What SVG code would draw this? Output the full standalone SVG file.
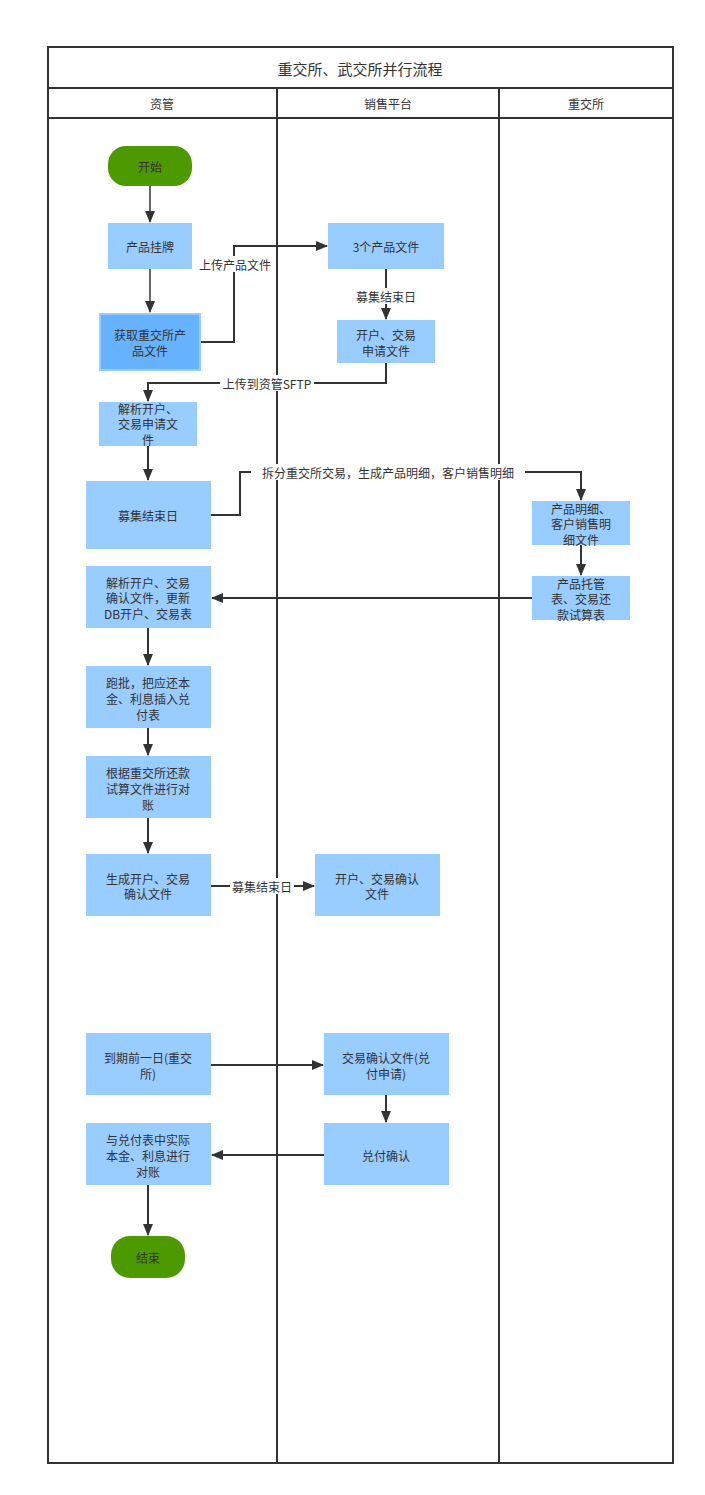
<svg xmlns="http://www.w3.org/2000/svg" width="705" height="1495" viewBox="0 0 705 1495">
<defs>
<marker id="arr" markerWidth="12" markerHeight="10" refX="11" refY="5" orient="auto" markerUnits="userSpaceOnUse">
<path d="M0,0 L12,5 L0,10 Z" fill="#333"/>
</marker>
<style>
text{font-family:"Noto Sans CJK SC","Liberation Sans",sans-serif;font-size:12px;fill:#333;text-anchor:middle;dominant-baseline:central}
.t{font-size:15px}
.box{fill:#99CCFF}
.dark{fill:#66B2FF;stroke:#99CCFF;stroke-width:2}
.term{fill:#4D9900}
.c{fill:none;stroke:#333;stroke-width:2}
.g{fill:none;stroke:#666;stroke-width:2}
.lbl{fill:#fff}
.frame{fill:none;stroke:#333;stroke-width:2}
</style>
</defs>
<rect width="705" height="1495" fill="#fff"/>
<g id="frame">
<rect class="frame" x="48" y="47" width="625" height="1416"/>
<line class="frame" x1="48" y1="88" x2="673" y2="88"/>
<line class="frame" x1="48" y1="118" x2="673" y2="118"/>
<line class="frame" x1="277" y1="88" x2="277" y2="1463"/>
<line class="frame" x1="499" y1="88" x2="499" y2="1463"/>
<text class="t" x="360" y="68">重交所、武交所并行流程</text>
<text x="162" y="103">资管</text>
<text x="388" y="103">销售平台</text>
<text x="586" y="103">重交所</text>
</g>
<g id="connectors">
<line class="g" x1="150" y1="186" x2="150" y2="222" marker-end="url(#arr)"/>
<line class="g" x1="150" y1="269" x2="150" y2="312" marker-end="url(#arr)"/>
<polyline class="c" points="201,342 234,342 234,246 327,246" marker-end="url(#arr)"/>
<rect class="lbl" x="196" y="256" width="78" height="16"/>
<text x="235" y="264">上传产品文件</text>
<line class="c" x1="386" y1="269" x2="386" y2="319" marker-end="url(#arr)"/>
<rect class="lbl" x="354" y="288" width="64" height="16"/>
<text x="386" y="296">募集结束日</text>
<polyline class="c" points="386,363 386,383 148,383 148,401" marker-end="url(#arr)"/>
<rect class="lbl" x="220" y="375" width="94" height="16"/>
<text x="267" y="383">上传到资管SFTP</text>
<line class="c" x1="148" y1="446" x2="148" y2="480" marker-end="url(#arr)"/>
<polyline class="c" points="211,515 240,515 240,472 581,472 581,500" marker-end="url(#arr)"/>
<rect class="lbl" x="251" y="464" width="274" height="16"/>
<text x="388" y="472">拆分重交所交易，生成产品明细，客户销售明细</text>
<line class="c" x1="581" y1="545" x2="581" y2="575" marker-end="url(#arr)"/>
<line class="c" x1="532" y1="598" x2="212" y2="598" marker-end="url(#arr)"/>
<line class="c" x1="148" y1="628" x2="148" y2="665" marker-end="url(#arr)"/>
<line class="c" x1="148" y1="728" x2="148" y2="755" marker-end="url(#arr)"/>
<line class="c" x1="148" y1="818" x2="148" y2="853" marker-end="url(#arr)"/>
<line class="c" x1="211" y1="886" x2="314" y2="886" marker-end="url(#arr)"/>
<rect class="lbl" x="230" y="878" width="64" height="16"/>
<text x="262" y="886">募集结束日</text>
<line class="c" x1="211" y1="1065" x2="323" y2="1065" marker-end="url(#arr)"/>
<line class="c" x1="386" y1="1095" x2="386" y2="1122" marker-end="url(#arr)"/>
<line class="c" x1="324" y1="1155" x2="212" y2="1155" marker-end="url(#arr)"/>
<line class="c" x1="148" y1="1185" x2="148" y2="1235" marker-end="url(#arr)"/>
</g>
<g id="start"><rect class="term" x="108" y="146" width="84" height="40" rx="18"/><text x="150" y="166">开始</text></g>
<g id="listing"><rect class="box" x="108" y="223" width="84" height="46"/><text x="150" y="246">产品挂牌</text></g>
<g id="fetch"><rect class="dark" x="100" y="314" width="100" height="56"/><text x="150" y="334">获取重交所产</text><text x="150" y="350">品文件</text></g>
<g id="threefiles"><rect class="box" x="328" y="223" width="116" height="46"/><text x="386" y="246">3个产品文件</text></g>
<g id="applyfile"><rect class="box" x="337" y="320" width="98" height="43"/><text x="386" y="334">开户、交易</text><text x="386" y="350">申请文件</text></g>
<g id="parseapply"><rect class="box" x="99" y="402" width="98" height="44"/><text x="148" y="408">解析开户、</text><text x="148" y="423">交易申请文</text><text x="148" y="439">件</text></g>
<g id="raiseend"><rect class="box" x="86" y="481" width="125" height="68"/><text x="148" y="515">募集结束日</text></g>
<g id="detail"><rect class="box" x="532" y="501" width="98" height="44"/><text x="581" y="508">产品明细、</text><text x="581" y="523">客户销售明</text><text x="581" y="539">细文件</text></g>
<g id="custody"><rect class="box" x="532" y="576" width="98" height="44"/><text x="581" y="583">产品托管</text><text x="581" y="598">表、交易还</text><text x="581" y="614">款试算表</text></g>
<g id="parseconfirm"><rect class="box" x="86" y="566" width="125" height="62"/><text x="148" y="582">解析开户、交易</text><text x="148" y="597">确认文件，更新</text><text x="148" y="613">DB开户、交易表</text></g>
<g id="batch"><rect class="box" x="86" y="666" width="125" height="62"/><text x="148" y="682">跑批，把应还本</text><text x="148" y="698">金、利息插入兑</text><text x="148" y="714">付表</text></g>
<g id="reconcile1"><rect class="box" x="86" y="756" width="125" height="62"/><text x="148" y="772">根据重交所还款</text><text x="148" y="788">试算文件进行对</text><text x="148" y="804">账</text></g>
<g id="genconfirm"><rect class="box" x="86" y="854" width="125" height="62"/><text x="148" y="878">生成开户、交易</text><text x="148" y="893">确认文件</text></g>
<g id="confirmfile"><rect class="box" x="315" y="854" width="125" height="62"/><text x="377" y="878">开户、交易确认</text><text x="377" y="893">文件</text></g>
<g id="daybefore"><rect class="box" x="86" y="1033" width="125" height="62"/><text x="148" y="1057">到期前一日(重交</text><text x="148" y="1073">所)</text></g>
<g id="payapply"><rect class="box" x="324" y="1033" width="125" height="62"/><text x="386" y="1057">交易确认文件(兑</text><text x="386" y="1073">付申请)</text></g>
<g id="reconcile2"><rect class="box" x="86" y="1123" width="125" height="62"/><text x="148" y="1139">与兑付表中实际</text><text x="148" y="1155">本金、利息进行</text><text x="148" y="1171">对账</text></g>
<g id="payconfirm"><rect class="box" x="324" y="1123" width="125" height="62"/><text x="386" y="1155">兑付确认</text></g>
<g id="end"><rect class="term" x="111" y="1236" width="74" height="42" rx="19"/><text x="148" y="1257">结束</text></g>
</svg>
